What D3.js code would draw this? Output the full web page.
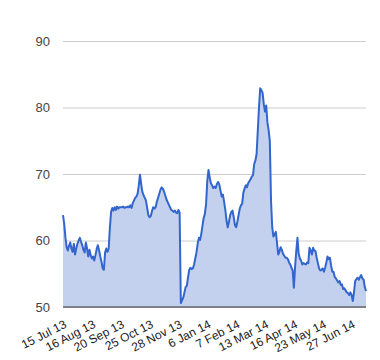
<!DOCTYPE html>
<html><head><meta charset="utf-8">
<script src="https://cdn.jsdelivr.net/npm/d3@7"></script>
<style>body{margin:0;background:#fff}svg{display:block}</style>
</head><body>
<svg id="chart" width="380" height="360"></svg>
<script>
const values = [
63.8,62.5,60.5,59.0,58.5,59.2,59.7,58.8,58.3,59.5,
57.9,58.8,59.5,60.0,60.4,59.8,59.3,58.6,58.2,59.7,
58.8,57.6,58.6,57.8,57.3,57.6,57.0,57.8,58.7,59.3,
58.5,57.6,56.8,55.8,55.6,58.2,58.8,58.3,58.8,62.0,
64.3,64.9,64.5,65.0,64.6,65.1,64.8,65.0,65.0,65.0,
65.1,64.9,65.0,65.0,65.1,65.0,65.3,64.9,65.6,66.0,
66.4,66.6,67.0,68.2,69.9,68.5,67.3,66.8,66.4,66.0,
64.9,63.8,63.5,63.7,64.4,65.0,64.8,65.0,65.8,66.4,
67.0,67.6,68.0,67.8,67.4,66.8,66.2,65.8,65.4,65.0,
64.6,64.5,64.3,64.5,64.2,64.1,64.6,64.2,50.6,51.0,
51.4,52.2,53.0,53.2,54.5,55.6,55.9,55.7,55.8,56.4,
57.3,58.2,59.5,60.4,60.1,61.0,62.2,63.4,64.0,65.5,
69.0,70.6,69.5,68.6,68.3,67.9,68.1,67.9,68.5,68.8,
68.4,67.5,66.6,66.9,65.8,64.6,63.0,62.0,62.8,63.8,
64.3,64.5,63.5,62.3,62.0,62.8,63.8,64.8,65.3,65.5,
67.2,67.8,68.3,68.0,68.6,68.9,69.2,69.6,69.8,71.5,
72.0,73.0,76.5,80.0,82.9,82.6,82.2,80.5,79.4,80.3,
77.8,76.6,75.0,66.0,62.0,60.6,60.9,61.3,59.6,57.9,
58.3,59.0,58.6,58.0,57.7,57.4,57.4,57.2,56.7,56.4,
55.9,55.5,52.9,56.0,58.4,60.4,58.0,57.3,57.0,56.4,
56.6,56.5,56.4,56.7,56.6,58.9,58.5,57.9,58.9,58.5,
58.4,57.4,56.6,55.8,55.5,55.6,55.8,55.3,55.9,56.7,
57.6,57.2,57.4,56.2,55.3,55.3,54.5,54.3,54.0,53.7,
53.9,53.3,53.4,52.7,52.8,52.5,52.2,52.1,51.8,52.2,
51.8,50.9,52.2,53.9,54.2,54.4,54.1,54.5,54.8,54.3,
54.1,53.0,52.4
];
const tickLabels = ["15 Jul 13","16 Aug 13","20 Sep 13","25 Oct 13","28 Nov 13","6 Jan 14","7 Feb 14","13 Mar 14","16 Apr 14","23 May 14","27 Jun 14"];
const tickStep = 24;
const yTicks = [50,60,70,80,90];

(function(){
const svg = d3.select("#chart");
const mLeft = 63, mRight = 366, mTop = 41, mBottom = 307;
const x = d3.scaleLinear().domain([0, values.length - 1]).range([mLeft, mRight]);
const y = d3.scaleLinear().domain([50, 90]).range([mBottom, mTop]);

const yAxis = d3.axisLeft(y).tickValues(yTicks).tickSize(-(mRight - mLeft)).tickPadding(13);
const gy = svg.append("g").attr("transform", `translate(${mLeft},0)`).call(yAxis);
gy.select(".domain").remove();
gy.selectAll(".tick line").attr("stroke", "#cccccc").attr("stroke-width", 1);
gy.selectAll(".tick text").attr("fill", "#444").attr("font-family", "Liberation Sans, Arial, sans-serif").attr("font-size", 13);

const data = values.map((v, i) => ({i, v}));
const area = d3.area().x(d => x(d.i)).y0(y(50)).y1(d => y(d.v));
const line = d3.line().x(d => x(d.i)).y(d => y(d.v));
svg.append("path").datum(data).attr("d", area).attr("fill", "#c3d1ee");
svg.append("path").datum(data).attr("d", line).attr("fill", "none").attr("stroke", "#3366cc").attr("stroke-width", 2).attr("stroke-linejoin", "round");

svg.append("line").attr("x1", mLeft).attr("x2", mRight).attr("y1", y(50)).attr("y2", y(50)).attr("stroke", "#333").attr("stroke-width", 1);

const xAxis = d3.axisBottom(x).tickValues(tickLabels.map((_, k) => k * tickStep)).tickFormat((d, k) => tickLabels[k]).tickSize(0);
const gx = svg.append("g").attr("transform", `translate(0,${mBottom})`).call(xAxis);
gx.select(".domain").remove();
gx.selectAll(".tick text")
  .attr("fill", "#222").attr("font-family", "Liberation Sans, Arial, sans-serif").attr("font-size", 12)
  .attr("text-anchor", "end").attr("y", 0).attr("dy", 0)
  .attr("transform", "translate(4,20) rotate(-27)");
})();
</script>
</body></html>
